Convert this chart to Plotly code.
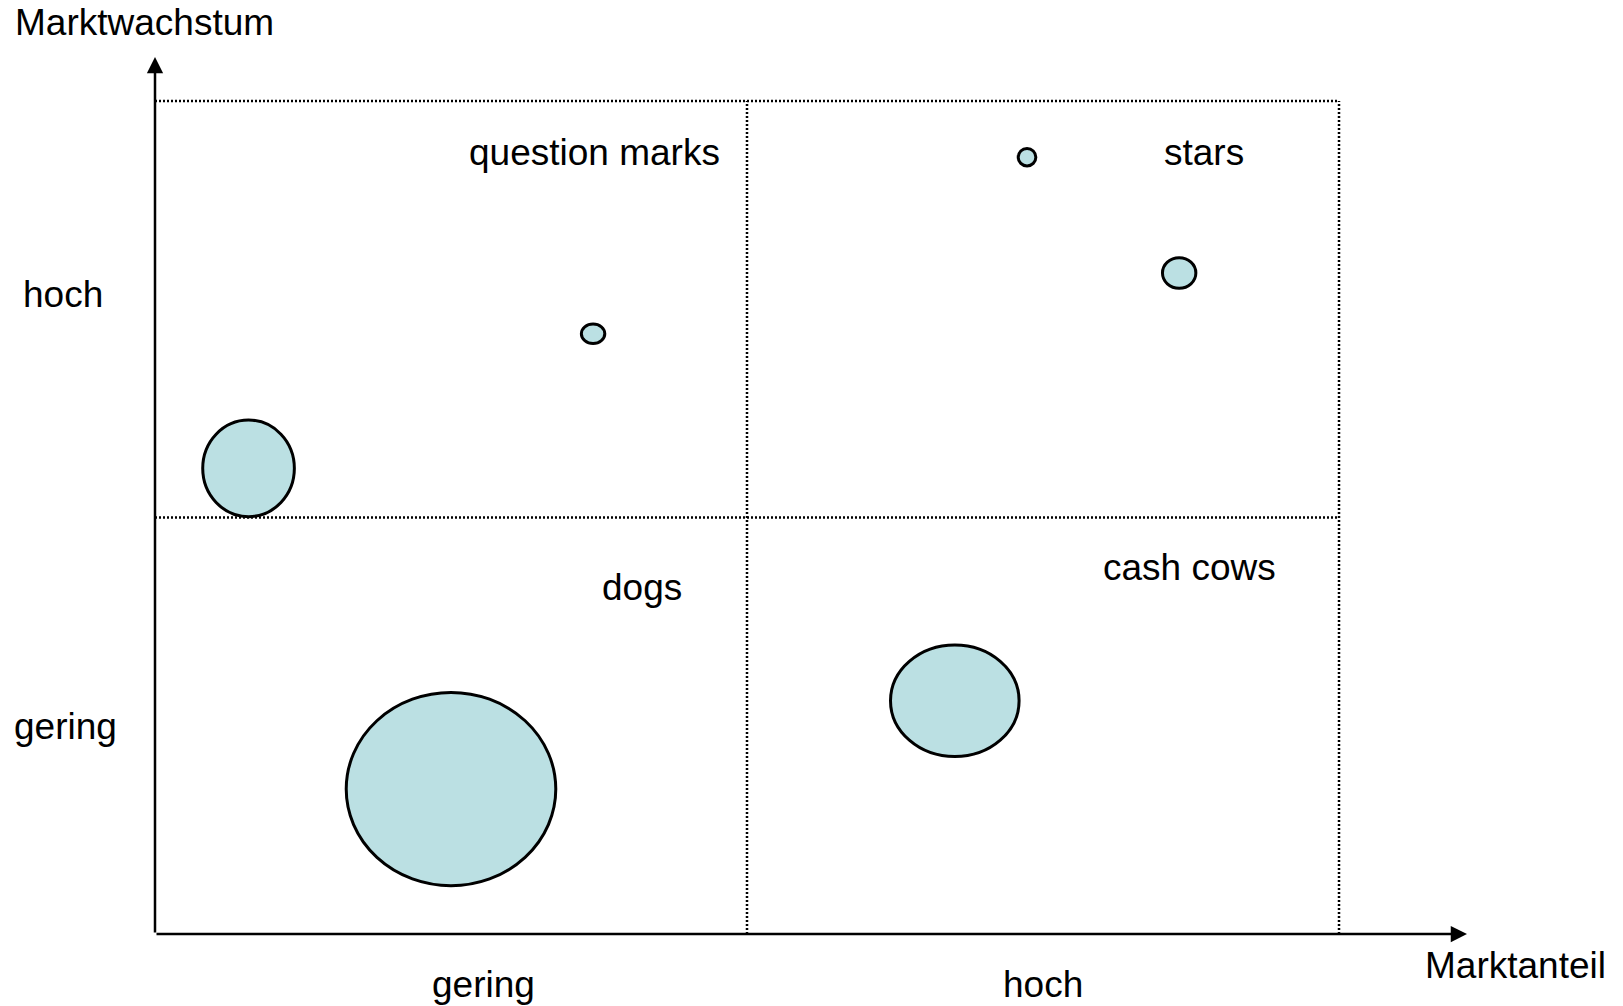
import plotly.graph_objects as go

# Portfolio data (Marktanteil 0..2, Marktwachstum 0..20)
share = [0.158, 0.740, 1.473, 1.730, 0.500, 1.351]
growth = [11.18, 14.41, 18.65, 15.87, 3.48, 5.60]
half_w = [0.0774, 0.0198, 0.0149, 0.0282, 0.177, 0.1086]
half_h = [1.16, 0.233, 0.211, 0.367, 2.32, 1.34]

quadrant_names = ["question marks", "stars", "dogs", "cash cows"]
level_labels = ["gering", "hoch"]
x_title = "Marktanteil"
y_title = "Marktwachstum"

FONT = "Liberation Sans, Arial, sans-serif"
FS = 37
FILL = "#BBE0E3"

fig = go.Figure()

# invisible centres for hover
fig.add_trace(go.Scatter(x=share, y=growth, mode="markers",
                         marker=dict(size=1, opacity=0), hoverinfo="x+y",
                         showlegend=False))

shapes = []
# dotted quadrant grid
dot = dict(color="black", width=2.5, dash="2px,2px")
for (x0, y0, x1, y1) in [(0, 20, 2, 20), (2, 0, 2, 20), (1, 0, 1, 20), (0, 10, 2, 10)]:
    shapes.append(dict(type="line", xref="x", yref="y", x0=x0, y0=y0, x1=x1, y1=y1,
                       line=dot, layer="below"))

# bubbles
for cx, cy, w, h in zip(share, growth, half_w, half_h):
    shapes.append(dict(type="circle", xref="x", yref="y",
                       x0=cx - w, x1=cx + w, y0=cy - h, y1=cy + h,
                       fillcolor=FILL, line=dict(color="black", width=3),
                       layer="above"))

annotations = []
# axes arrows
annotations.append(dict(x=2.2162, y=0, ax=0, ay=0, xref="x", yref="y", axref="x", ayref="y",
                        text="", showarrow=True, arrowhead=2, arrowsize=1.3, arrowwidth=2.5,
                        arrowcolor="black", standoff=0, startstandoff=0))
annotations.append(dict(x=0, y=21.056, ax=0, ay=0, xref="x", yref="y", axref="x", ayref="y",
                        text="", showarrow=True, arrowhead=2, arrowsize=1.3, arrowwidth=2.5,
                        arrowcolor="black", standoff=0, startstandoff=0))


def txt(x, y, s, xanchor, ref="paper"):
    r = "paper" if ref == "paper" else None
    annotations.append(dict(x=x, y=y, xref=r or "x", yref=r or "y", text=s, showarrow=False,
                            xanchor=xanchor, yanchor="middle", borderpad=0,
                            font=dict(family=FONT, size=FS, color="black")))


txt(-0.1078, 1.0399, y_title, "left")
txt(0.9671, -0.0359, x_title, "left")
txt(-0.1015, 0.7292, level_labels[1], "left")
txt(-0.1086, 0.2365, level_labels[0], "left")
txt(0.2507, -0.0574, level_labels[0], "center")
txt(0.6767, -0.0574, level_labels[1], "center")
txt(0.9565, 18.775, quadrant_names[0], "right", "data")
txt(1.7019, 18.775, quadrant_names[1], "left", "data")
txt(0.7542, 8.33, quadrant_names[2], "left", "data")
txt(1.5990, 8.79, quadrant_names[3], "left", "data")

fig.update_layout(
    width=1623, height=1006,
    margin=dict(l=155, r=156, t=57, b=72),
    paper_bgcolor="white", plot_bgcolor="white",
    showlegend=False,
    shapes=shapes, annotations=annotations,
    xaxis=dict(range=[0, 2.2162], visible=False, fixedrange=True),
    yaxis=dict(range=[0, 21.056], visible=False, fixedrange=True),
)

fig.write_html("out.html")
